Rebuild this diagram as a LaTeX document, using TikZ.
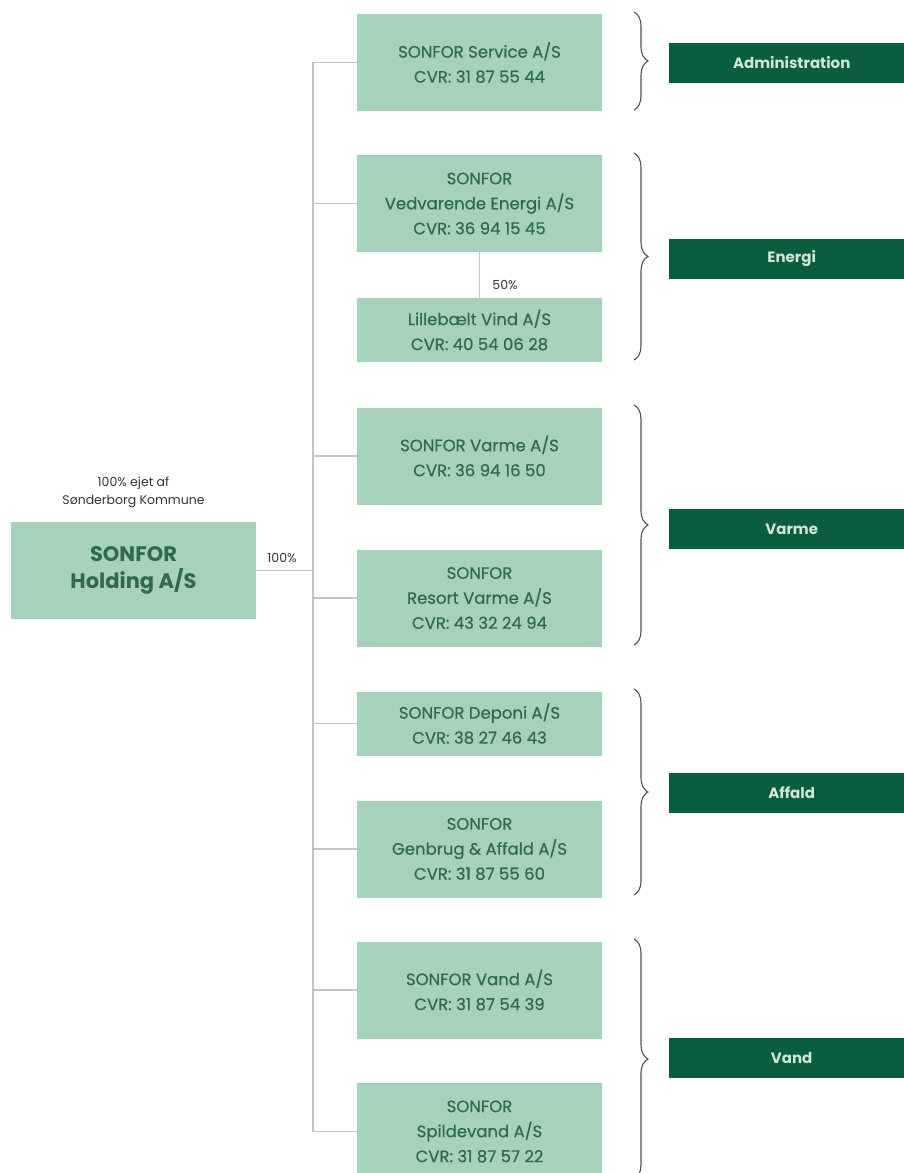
\documentclass[tikz,border=0pt]{standalone}
\usepackage{fontspec}
\setmainfont{Poppins}
\newfontfamily\medfont{Poppins}[FakeBold=0.4]
\usetikzlibrary{decorations.pathreplacing}
\definecolor{boxgreen}{HTML}{A6D1BA}
\definecolor{textgreen}{HTML}{2E6A4F}
\definecolor{bargreen}{HTML}{0B5D3F}
\definecolor{bartext}{HTML}{CFE6D8}
\definecolor{linegray}{HTML}{C4C4C4}
\definecolor{bracegray}{HTML}{45594F}
\tikzset{
  company/.style={fill=boxgreen, text=textgreen, minimum width=245pt,
    minimum height=97pt, inner sep=0pt, align=center,
    font=\medfont\fontsize{16.5}{25}\selectfont},
  smallcompany/.style={company, minimum height=64pt},
  area/.style={fill=bargreen, text=bartext, minimum width=245pt,
    minimum height=40pt, inner sep=0pt, anchor=west,
    font=\fontsize{15}{16}\selectfont\bfseries},
  note/.style={text=black!80, align=center, inner sep=0pt,
    font=\fontsize{12.5}{18}\selectfont},
  link/.style={draw=linegray, line width=1.2pt},
  group/.style={draw=bracegray, line width=1.1pt, decorate,
    decoration={brace, amplitude=14pt}}
}
\def\groupBrace#1#2{
\draw[group] (634,#1) -- (634,#2);
}

\begin{document}
\begin{tikzpicture}[x=1pt, y=-1pt]
  \useasboundingbox (0,0) rectangle (903,1173);
  % holding
  \node[company, font=\fontsize{21}{27}\selectfont\bfseries] (holding) at (133.5,570.5) {SONFOR\\Holding A/S};
  \node[note] (owner) at (133.5,492) {100\% ejet af\\Sønderborg Kommune};
  \node[note] (share) at (282,558) {100\%};
  \coordinate (trunk) at (313,570.5);
  % companies
  \node[company] (service) at (479.5,62.5) {SONFOR Service A/S\\CVR: 31 87 55 44};
  \node[company] (vedvarende) at (479.5,203.5) {SONFOR\\Vedvarende Energi A/S\\CVR: 36 94 15 45};
  \node[smallcompany] (lillebaelt) at (479.5,330) {Lillebælt Vind A/S\\CVR: 40 54 06 28};
  \node[company] (varme) at (479.5,456) {SONFOR Varme A/S\\CVR: 36 94 16 50};
  \node[company] (resort) at (479.5,598) {SONFOR\\Resort Varme A/S\\CVR: 43 32 24 94};
  \node[smallcompany] (deponi) at (479.5,723.5) {SONFOR Deponi A/S\\CVR: 38 27 46 43};
  \node[company] (genbrug) at (479.5,849) {SONFOR\\Genbrug \& Affald A/S\\CVR: 31 87 55 60};
  \node[company] (vand) at (479.5,990) {SONFOR Vand A/S\\CVR: 31 87 54 39};
  \node[company] (spildevand) at (479.5,1131.5) {SONFOR\\Spildevand A/S\\CVR: 31 87 57 22};
  \node[note] (half) at (505,285) {50\%};
  % lines
  \draw[link] (holding) -- (trunk);
  \foreach \c in {service,vedvarende,varme,resort,deponi,genbrug,vand,spildevand}
    \draw[link] (trunk) |- (\c);
  \draw[link] (vedvarende) -- (lillebaelt);
  % areas
  \groupBrace{12}{110}
  \groupBrace{153}{360}
  \groupBrace{405}{645}
  \groupBrace{689}{895}
  \groupBrace{939}{1179}
  \node[area] (admin) at (669,63) {Administration};
  \node[area] (energi) at (669,259) {Energi};
  \node[area] (varmearea) at (669,529) {Varme};
  \node[area] (affald) at (669,793) {Affald};
  \node[area] (vandarea) at (669,1058) {Vand};
\end{tikzpicture}
\end{document}
